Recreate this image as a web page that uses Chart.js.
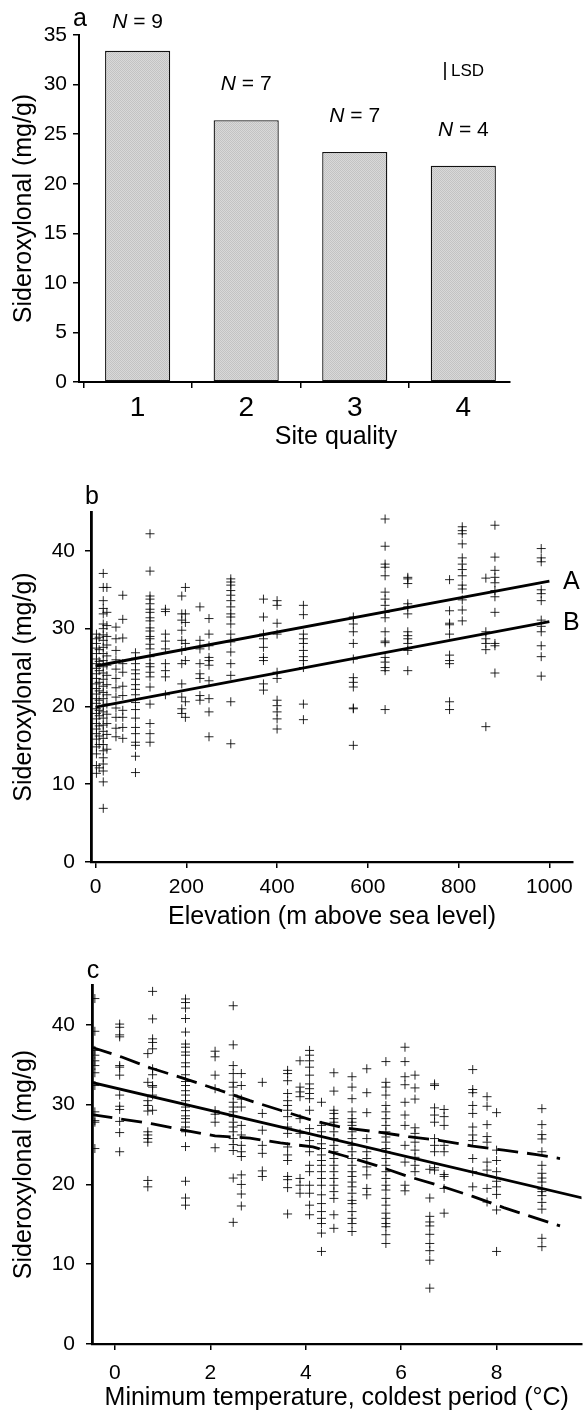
<!DOCTYPE html>
<html>
<head>
<meta charset="utf-8">
<title>Sideroxylonal</title>
<script src="https://cdn.jsdelivr.net/npm/chart.js@4.4.0/dist/chart.umd.min.js"></script>
<style>
  html, body { margin:0; padding:0; background:#fff; }
  #fig { position:relative; width:587px; height:1412px; background:#fff; overflow:hidden; }
  #fig canvas { position:absolute; left:0; }
</style>
</head>
<body>
<div id="fig">
  <canvas id="siteChart" width="587" height="460" style="top:0"></canvas>
  <canvas id="elevChart" width="587" height="470" style="top:460px"></canvas>
  <canvas id="tempChart" width="587" height="482" style="top:930px"></canvas>
</div>
<script>
'use strict';

// ── (a) mean sideroxylonal by site quality ──────────────────────────
const siteQuality = [1, 2, 3, 4];
const siteMeans   = [33.4, 26.4, 23.2, 21.8];
const siteN       = [9, 7, 7, 4];
const siteLSD     = 1.8;
const siteYTicks  = [0, 5, 10, 15, 20, 25, 30, 35];

// ── (b) individual trees against elevation (one column per site) ────
const elevSites = [2, 8, 17, 25, 45, 60, 88, 120, 154, 190, 198, 230, 250, 298,
                   370, 400, 458, 568, 638, 688, 780, 808, 860, 880, 982];
const elevValues = [
  [29.3, 28.7, 28.1, 27.5, 26.8, 26.1, 25.5, 24.9, 24.2, 23.6, 22.9, 22.3, 21.6, 21.0, 20.4, 19.7, 19.1, 18.4, 17.8, 17.1, 16.5, 15.8, 14.8, 13.9, 12.4, 11.4],
  [28.9, 27.3, 25.8, 24.6, 23.1, 22.0, 20.8, 19.5, 18.8, 17.5, 16.2, 15.1, 12.1],
  [37.1, 35.3, 33.6, 32.6, 31.9, 30.6, 30.0, 29.2, 28.5, 27.6, 26.8, 25.9, 25.1, 24.3, 23.5, 22.6, 21.8, 21.0, 20.1, 19.3, 18.5, 17.6, 16.8, 15.9, 15.1, 14.3, 13.4, 12.6, 11.7, 10.3, 6.9],
  [35.3, 32.1, 30.4, 29.0, 27.9, 26.5, 25.3, 24.0, 22.8, 21.5, 20.3, 19.0, 17.8, 16.4, 14.5],
  [30.2, 28.7, 27.2, 26.0, 24.8, 23.6, 22.4, 21.2, 19.8, 18.6, 17.2, 16.1],
  [34.3, 31.2, 28.8, 25.5, 24.4, 22.6, 21.4, 19.5, 18.6, 17.3, 15.9],
  [26.9, 26.2, 25.5, 24.7, 24.2, 23.5, 22.8, 22.2, 21.5, 20.5, 19.6, 18.5, 17.3, 16.5, 15.4, 15.0, 13.6, 11.5],
  [42.2, 37.4, 34.2, 33.8, 33.2, 32.5, 32.1, 31.4, 31.0, 30.1, 29.7, 29.0, 28.7, 28.0, 27.4, 26.4, 25.5, 25.1, 24.4, 23.8, 22.5, 20.3, 17.8, 16.5, 15.4],
  [32.5, 32.2, 29.3, 28.4, 27.4, 25.5, 24.6, 23.8, 21.5],
  [34.2, 31.9, 31.1, 29.8, 28.5, 27.2, 25.5, 22.9, 21.2, 19.7, 19.1],
  [35.3, 31.9, 30.8, 28.1, 25.9, 20.6, 18.6],
  [32.8, 28.5, 27.4, 25.5, 24.2, 23.6, 21.4, 20.8],
  [31.3, 29.3, 27.8, 26.3, 25.9, 25.3, 23.3, 21.0, 19.3, 16.1],
  [36.4, 36.0, 35.6, 34.9, 34.3, 33.6, 32.8, 31.9, 31.5, 30.6, 29.3, 28.3, 27.0, 25.5, 24.0, 20.6, 15.2],
  [33.8, 31.5, 29.3, 28.7, 27.6, 26.3, 25.9, 22.9, 22.1],
  [33.6, 33.0, 30.7, 29.3, 24.4, 23.6, 20.8, 20.1, 19.3, 18.4, 17.1],
  [33.0, 31.8, 29.3, 28.7, 28.1, 27.2, 26.4, 25.9, 25.0, 20.3, 18.3],
  [31.5, 30.6, 29.6, 28.1, 26.1, 23.7, 23.1, 22.5, 19.8, 19.7, 15.0],
  [44.1, 40.6, 38.3, 37.9, 36.8, 34.7, 33.8, 33.0, 32.1, 31.4, 29.6, 28.4, 28.2, 26.3, 25.7, 25.0, 24.6, 19.6],
  [36.6, 36.4, 35.8, 33.2, 32.8, 31.9, 29.6, 29.1, 28.7, 28.1, 27.2, 24.6],
  [36.3, 32.3, 30.7, 30.5, 29.3, 26.6, 25.9, 25.5, 20.6, 19.6],
  [43.1, 42.6, 42.2, 40.9, 39.1, 38.3, 37.6, 36.8, 35.6, 35.1, 33.7, 32.4, 31.0],
  [36.5, 29.6, 28.7, 28.1, 27.3, 17.4],
  [43.3, 39.2, 37.5, 36.6, 35.9, 34.9, 34.1, 32.1, 28.1, 27.8, 24.3],
  [40.3, 39.1, 38.6, 35.0, 34.5, 33.6, 31.1, 30.3, 29.6, 27.8, 26.4, 23.9]
];
const elevLineA  = [[0, 25.2], [1000, 36.1]];
const elevLineB  = [[0, 19.9], [1000, 30.9]];
const elevXTicks = [0, 200, 400, 600, 800, 1000];
const elevYTicks = [0, 10, 20, 30, 40];

// ── (c) individual trees against minimum temperature ────────────────
const tempSites = [-0.42, 0.1, 0.69, 0.79, 1.48, 2.1, 2.48, 2.65, 3.09, 3.62, 3.88, 4.08,
                   4.33, 4.59, 4.97, 5.28, 5.68, 6.08, 6.29, 6.6, 6.7, 6.9, 7.5, 7.8, 8.0, 8.95];
const tempValues = [
  [43.3, 39.2, 36.8, 36.2, 35.5, 34.9, 34.0, 32.4, 29.1, 28.0, 27.8, 24.5],
  [40.1, 39.7, 38.75, 38.5, 34.9, 34.7, 33.7, 31.2, 29.8, 29.4, 27.9, 26.5, 24.1],
  [36.4, 32.8, 30.5, 29.9, 29.2, 26.6, 26.2, 25.75, 25.3, 20.5, 19.7],
  [44.2, 40.75, 38.25, 37.8, 37.0, 34.5, 33.75, 32.4, 32.2, 31.2, 29.3],
  [43.25, 42.8, 42.1, 40.8, 39.1, 37.6, 37.2, 36.6, 36.2, 35.25, 34.75, 33.75, 32.9, 32.4, 31.75, 31.2, 30.5, 29.7, 29.25, 28.6, 28.25, 27.8, 27.2, 26.6, 24.75, 20.4, 18.3, 17.4],
  [36.7, 36.0, 33.7, 32.0, 29.25, 28.8, 27.8, 24.6],
  [42.4, 37.5, 34.9, 33.9, 32.8, 32.2, 31.2, 30.3, 29.7, 29.1, 28.5, 27.8, 27.2, 26.6, 25.75, 25.0, 24.25, 20.8, 15.25],
  [33.9, 32.4, 30.7, 29.7, 27.4, 26.2, 24.9, 24.1, 23.5, 21.2, 20.0, 18.8, 17.3],
  [32.8, 28.9, 26.8, 24.9, 23.9, 21.7, 21.0],
  [34.3, 33.9, 33.0, 31.4, 30.5, 29.9, 29.3, 28.5, 27.2, 26.4, 24.7, 23.7, 23.0, 21.0, 20.6, 19.6, 16.3],
  [35.5, 32.2, 31.6, 31.0, 28.25, 26.4, 20.75, 19.9, 18.9],
  [36.8, 36.2, 35.5, 34.7, 33.7, 32.6, 32.0, 31.4, 30.75, 29.3, 27.0, 25.5, 24.1, 22.4, 21.6, 19.9, 18.9, 17.4, 16.2],
  [30.3, 27.4, 26.6, 26.0, 25.1, 24.5, 23.7, 23.0, 22.4, 21.6, 20.75, 19.9, 18.7, 17.6, 16.6, 15.75, 15.1, 13.9, 11.6],
  [34.0, 31.7, 29.3, 28.9, 28.25, 27.8, 27.4, 26.6, 25.75, 24.9, 24.1, 23.25, 22.4, 21.6, 20.75, 19.9, 19.1, 18.25, 16.2, 14.5],
  [33.5, 32.2, 30.75, 29.1, 28.25, 27.8, 27.4, 26.6, 25.75, 24.9, 24.1, 23.25, 22.4, 21.6, 21.0, 20.3, 19.7, 18.9, 18.0, 17.6, 16.6, 15.75, 15.1, 14.1],
  [34.5, 31.5, 29.0, 25.75, 24.1, 23.25, 22.2, 21.2, 19.5, 18.7],
  [35.4, 32.8, 32.2, 31.2, 29.9, 29.1, 28.25, 27.4, 26.6, 25.95, 25.3, 24.5, 24.1, 23.25, 22.4, 21.6, 20.75, 19.9, 19.3, 18.25, 17.4, 16.4, 15.75, 15.1, 14.7, 13.7, 12.6],
  [37.2, 35.4, 33.5, 32.5, 30.3, 28.7, 27.4, 24.9, 22.8, 19.9, 19.2],
  [33.7, 32.1, 30.7, 27.1, 26.4, 25.3, 24.3, 23.4, 22.4, 21.6],
  [21.9, 18.3, 16.0, 15.3, 14.8, 13.75, 12.6, 11.7, 10.5, 7.0],
  [32.6, 32.4, 29.6, 28.7, 27.8, 25.75, 24.9, 24.1, 22.1, 21.8],
  [29.4, 28.5, 27.4, 24.9, 24.1, 21.25, 21.0, 19.5, 16.4],
  [34.4, 31.9, 31.5, 29.9, 28.9, 27.2, 26.2, 25.5, 23.25, 21.6, 19.7],
  [31.0, 29.8, 27.5, 26.0, 25.3, 22.8, 21.8, 19.5, 17.8],
  [29.0, 24.3, 23.0, 21.6, 20.4, 19.7, 18.75, 16.8, 11.6],
  [29.5, 27.5, 26.25, 25.7, 24.1, 22.4, 21.4, 20.8, 20.3, 19.4, 19.1, 18.6, 17.75, 16.9, 13.25, 12.2]
];
const tempFit   = [[-0.5, 32.8], [9.8, 18.3]];
const tempUpper = [[-0.49, 37.2], [0.13, 36.0], [0.75, 34.6], [1.44, 33.3], [2.1, 32.0], [2.83, 30.5],
                   [3.47, 29.3], [4.15, 28.0], [4.8, 27.1], [5.47, 26.6], [6.15, 26.0], [6.83, 25.5],
                   [7.5, 24.8], [8.15, 24.3], [8.84, 23.75], [9.33, 23.25]];
const tempLower = [[-0.49, 28.75], [0.13, 28.2], [0.79, 27.6], [1.44, 26.8], [2.1, 26.1], [2.83, 25.8],
                   [3.47, 25.2], [4.15, 24.7], [4.8, 23.6], [5.47, 22.4], [6.15, 21.0], [6.83, 19.8],
                   [7.5, 18.5], [8.15, 17.1], [8.84, 15.75], [9.33, 14.8]];
const tempXTicks = [0, 2, 4, 6, 8];
const tempYTicks = [0, 10, 20, 30, 40];

const FONT = '"Liberation Sans", Arial, Helvetica, sans-serif';
const Y_TITLE = 'Sideroxylonal (mg/g)';

// ── helpers ─────────────────────────────────────────────────────────
const toXY = pts => pts.map(([x, y]) => ({ x, y }));
const columns = (xs, ys) => xs.flatMap((x, i) => ys[i].map(y => ({ x, y })));

// fixed axis box so the plot area lands where we want it
function fixBox(size) {
  return s => {
    if (s.isHorizontal()) s.height = size; else s.width = size;
    s.paddingLeft = s.paddingRight = s.paddingTop = s.paddingBottom = 0;
  };
}

function axis({ min, max, ticks, size, tickSize = 21, tickPad, border = 2, title, titlePad }) {
  return {
    type: 'linear', min, max,
    afterBuildTicks: s => { s.ticks = ticks.map(v => ({ value: v })); },
    afterFit: fixBox(size),
    grid: { drawOnChartArea: false, drawTicks: true, tickLength: 6, color: '#000', lineWidth: 1.5 },
    border: { display: true, color: '#000', width: border },
    ticks: { color: '#000', padding: tickPad, autoSkip: false, maxRotation: 0,
             font: { family: FONT, size: tickSize, lineHeight: 1 }, callback: v => String(v) },
    title: title
      ? { display: true, text: title, color: '#000', padding: titlePad,
          font: { family: FONT, size: 25, lineHeight: 1 } }
      : { display: false }
  };
}

function label(ctx, text, x, y, size, align = 'center') {
  ctx.font = `${size}px ${FONT}`;
  ctx.textAlign = align;
  ctx.fillText(text, x, y);
}

// "N = 9" with an italic N, centred on cx
function drawN(ctx, cx, cy, n) {
  const it = `italic 21px ${FONT}`, rm = `21px ${FONT}`, rest = ` = ${n}`;
  ctx.font = it; const w1 = ctx.measureText('N').width;
  ctx.font = rm; const w2 = ctx.measureText(rest).width;
  const x0 = cx - (w1 + w2) / 2;
  ctx.textAlign = 'left';
  ctx.font = it; ctx.fillText('N', x0, cy);
  ctx.font = rm; ctx.fillText(rest, x0 + w1, cy);
}

function stipple(ctx) {
  const c = document.createElement('canvas');
  c.width = c.height = 2;
  const g = c.getContext('2d');
  g.fillStyle = '#d9d9d9'; g.fillRect(0, 0, 2, 2);
  g.fillStyle = '#c3c3c3'; g.fillRect(0, 0, 1, 1); g.fillRect(1, 1, 1, 1);
  return ctx.createPattern(c, 'repeat');
}

const base = {
  responsive: false, animation: false, events: [], devicePixelRatio: 1,
  plugins: { legend: { display: false }, tooltip: { enabled: false } }
};

// ── (a) bar chart ───────────────────────────────────────────────────
const siteCanvas = document.getElementById('siteChart');
const siteNotes = {
  id: 'siteNotes',
  afterDraw(chart) {
    const { ctx, chartArea: a, scales: { x, y } } = chart;
    ctx.save();
    ctx.fillStyle = '#000'; ctx.strokeStyle = '#000'; ctx.textBaseline = 'middle';
    label(ctx, 'a', a.left + 1, a.top - 16, 25);
    siteQuality.forEach((q, i) => {
      const cy = Math.max(y.getPixelForValue(siteMeans[i]) - 36, 22);
      drawN(ctx, x.getPixelForValue(q), cy, siteN[i]);
    });
    const h = y.getPixelForValue(0) - y.getPixelForValue(siteLSD);
    const lx = a.right - 65, ly = a.top + 36;
    ctx.lineWidth = 1.6;
    ctx.beginPath(); ctx.moveTo(lx, ly - h / 2); ctx.lineTo(lx, ly + h / 2); ctx.stroke();
    label(ctx, 'LSD', lx + 6, ly, 17, 'left');
    label(ctx, 'Site quality', a.left + 257, 437, 25);
    ctx.restore();
  }
};
new Chart(siteCanvas, {
  type: 'bar',
  data: {
    datasets: [{
      data: siteQuality.map((q, i) => ({ x: q, y: siteMeans[i] })),
      backgroundColor: stipple(siteCanvas.getContext('2d')),
      borderColor: '#111', borderWidth: 1.3, borderSkipped: false,
      barPercentage: 0.6, categoryPercentage: 1
    }]
  },
  options: {
    ...base,
    layout: { padding: { left: 0, top: 35, right: 77, bottom: 0 } },
    scales: {
      x: { ...axis({ min: 0.46, max: 4.43, ticks: siteQuality, size: 78, tickSize: 28, tickPad: 6 }), offset: false },
      y: axis({ min: 0, max: 35, ticks: siteYTicks, size: 79, tickPad: 6,
                title: Y_TITLE, titlePad: { top: 11.5, bottom: 0 } })
    }
  },
  plugins: [siteNotes]
});

// ── (b) elevation scatter ───────────────────────────────────────────
const crossPts = {
  pointStyle: 'cross', pointRadius: 4.5, pointBorderWidth: 1,
  pointBorderColor: 'rgba(0,0,0,0.85)', showLine: false, order: 2
};
const fitLine = (pts, dash) => ({
  data: toXY(pts), showLine: true, pointRadius: 0, borderColor: '#000',
  borderWidth: 2.8, borderDash: dash || [], fill: false, order: 1
});

new Chart(document.getElementById('elevChart'), {
  type: 'scatter',
  data: {
    datasets: [
      { data: columns(elevSites, elevValues), ...crossPts },
      fitLine(elevLineA),
      fitLine(elevLineB)
    ]
  },
  options: {
    ...base,
    layout: { padding: { left: 0, top: 52, right: 14, bottom: 0 } },
    scales: {
      x: axis({ min: -10, max: 1052, ticks: elevXTicks, size: 68, tickPad: 9, border: 2.2,
                title: 'Elevation (m above sea level)', titlePad: { top: 0, bottom: 0.5 } }),
      y: axis({ min: 0, max: 45, ticks: elevYTicks, size: 91, tickPad: 10, border: 2.8,
                title: Y_TITLE, titlePad: { top: 11.5, bottom: 0 } })
    }
  },
  plugins: [{
    id: 'elevNotes',
    afterDraw(chart) {
      const { ctx, chartArea: a, scales: { x, y } } = chart;
      ctx.save();
      ctx.fillStyle = '#000'; ctx.textBaseline = 'middle';
      label(ctx, 'b', a.left + 1, a.top - 15, 25);
      [['A', elevLineA], ['B', elevLineB]].forEach(([t, ln]) => {
        const [ex, ey] = ln[ln.length - 1];
        label(ctx, t, x.getPixelForValue(ex) + 22, y.getPixelForValue(ey) + 1, 25);
      });
      ctx.restore();
    }
  }]
});

// ── (c) minimum temperature scatter ─────────────────────────────────
new Chart(document.getElementById('tempChart'), {
  type: 'scatter',
  data: {
    datasets: [
      { data: columns(tempSites, tempValues), ...crossPts },
      fitLine(tempFit),
      fitLine(tempUpper, [21, 9]),
      fitLine(tempLower, [21, 9])
    ]
  },
  options: {
    ...base,
    layout: { padding: { left: 0, top: 55, right: 0, bottom: 0 } },
    scales: {
      x: axis({ min: -0.48, max: 9.78, ticks: tempXTicks, size: 68, tickPad: 12.8, border: 2.2,
                title: 'Minimum temperature, coldest period (°C)', titlePad: { top: 0, bottom: 1.5 } }),
      y: axis({ min: 0, max: 45, ticks: tempYTicks, size: 92, tickPad: 11, border: 2.8,
                title: Y_TITLE, titlePad: { top: 11.5, bottom: 0 } })
    }
  },
  plugins: [{
    id: 'tempNotes',
    afterDraw(chart) {
      const { ctx, chartArea: a } = chart;
      ctx.save();
      ctx.fillStyle = '#000'; ctx.textBaseline = 'middle';
      label(ctx, 'c', a.left + 1, a.top - 14, 25);
      ctx.restore();
    }
  }]
});
</script>
</body>
</html>
